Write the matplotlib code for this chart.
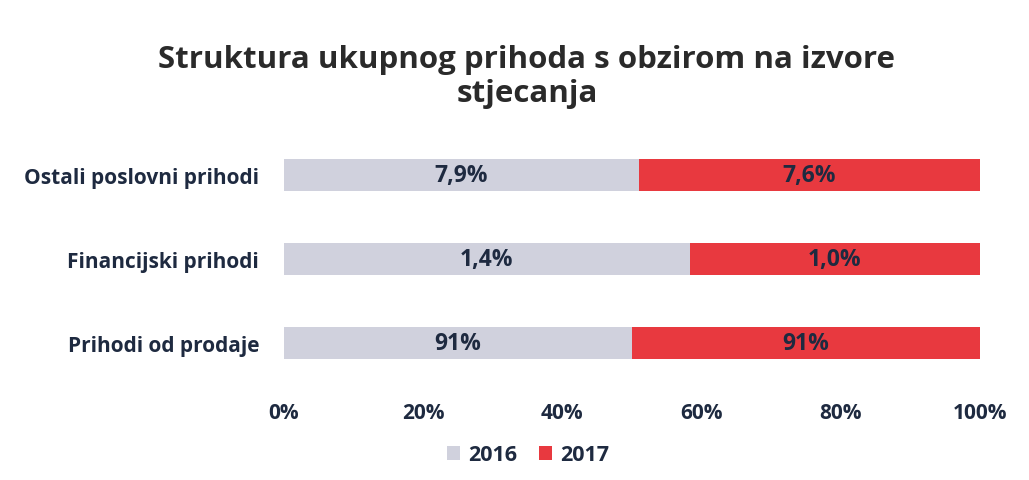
import matplotlib.pyplot as plt
import numpy as np

plt.rcParams['font.family'] = ['Open Sans', 'DejaVu Sans']

categories = ['Prihodi od prodaje', 'Financijski prihodi', 'Ostali poslovni prihodi']
vals_2016 = [91, 1.4, 7.9]
vals_2017 = [91, 1.0, 7.6]
labels_2016 = ['91%', '1,4%', '7,9%']
labels_2017 = ['91%', '1,0%', '7,6%']
ticks = [0, 20, 40, 60, 80, 100]

a = np.array(vals_2016)
b = np.array(vals_2017)
share_a = a / (a + b) * 100
share_b = b / (a + b) * 100

txt = '#1e2a40'
c16 = '#d0d1dd'
c17 = '#e8393f'

fig = plt.figure(figsize=(10.29, 4.81), dpi=100)
ax = fig.add_axes([0.276, 0.1975, 0.676, 0.5235])

y = np.arange(len(categories))
ax.barh(y, share_a, height=0.38, color=c16, label='2016')
ax.barh(y, share_b, left=share_a, height=0.38, color=c17, label='2017')

for i in range(len(categories)):
    ax.text(share_a[i] / 2, y[i], labels_2016[i], ha='center', va='center',
            fontsize=16.5, fontweight='bold', color=txt)
    ax.text(share_a[i] + share_b[i] / 2, y[i], labels_2017[i], ha='center', va='center',
            fontsize=16.5, fontweight='bold', color=txt)

ax.set_xlim(0, 100)
ax.set_ylim(-0.5, 2.5)
ax.set_xticks(ticks)
ax.set_xticklabels([f'{t}%' for t in ticks], fontsize=15, fontweight='bold', color=txt)
ax.set_yticks(y)
ax.set_yticklabels(categories, fontsize=15, fontweight='bold', color=txt)
ax.tick_params(axis='both', length=0)
ax.tick_params(axis='x', pad=12)
ax.tick_params(axis='y', pad=18)
for s in ax.spines.values():
    s.set_visible(False)

fig.text(0.512, 0.84, 'Struktura ukupnog prihoda s obzirom na izvore\nstjecanja',
         ha='center', va='center', fontsize=22.5, fontweight='bold', color='#2a2a2a',
         linespacing=1.2)

fig.legend(loc='center', bbox_to_anchor=(0.513, 0.052), ncol=2, frameon=False,
           prop={'size': 15.5, 'weight': 'bold'}, handlelength=0.6, handleheight=0.6,
           columnspacing=1.0, handletextpad=0.4, labelcolor=txt)

fig.savefig('out.png', dpi=100)
